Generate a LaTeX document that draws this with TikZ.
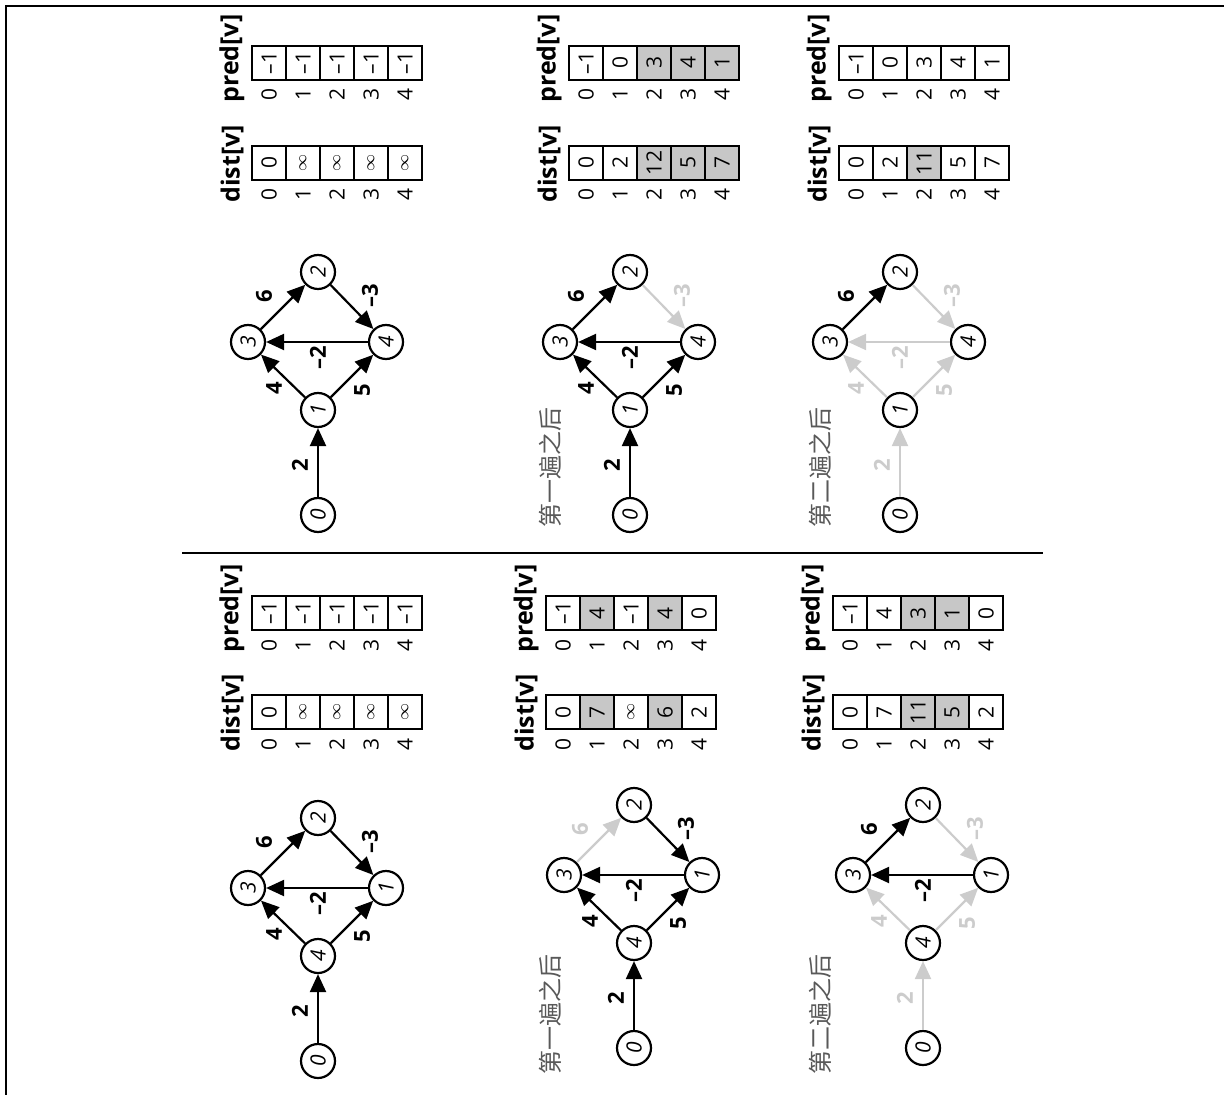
\documentclass[tikz,border=0pt]{standalone}
\usepackage{fontspec}
\setsansfont{Open Sans}
\newfontfamily\cjkfont{Noto Sans CJK SC}
\usetikzlibrary{arrows.meta}
\definecolor{shade}{gray}{0.78}
\definecolor{faint}{gray}{0.8}
\definecolor{capgray}{gray}{0.35}
\tikzset{
 vtx/.style={circle, draw, line width=1.1pt, minimum size=17pt, inner sep=0pt, font=\sffamily\itshape\fontsize{10.5}{10.5}\selectfont, rotate=90},
 ed/.style={line width=1.1pt, -{Triangle[length=9pt,width=8pt]}},
 elab/.style={font=\sffamily\bfseries\fontsize{11}{11}\selectfont, rotate=90, inner sep=0pt},
 hdr/.style={font=\sffamily\bfseries\fontsize{12.5}{12.5}\selectfont, rotate=90, inner sep=0pt, anchor=west},
 cellbox/.style={draw, line width=1pt},
 celltxt/.style={font=\sffamily\fontsize{10.5}{10.5}\selectfont, rotate=90, inner sep=0pt},
 idx/.style={font=\sffamily\fontsize{10.5}{10.5}\selectfont, rotate=90, inner sep=0pt},
 captext/.style={font=\cjkfont\fontsize{12}{12}\selectfont, text=capgray, rotate=90, anchor=west, inner sep=0pt},
}
\newcommand\myinf{{\fontsize{8}{8}\selectfont$\infty$}}
\newcommand\Nodes[3]{%
 \node[vtx] (#10) at (0,105) {0};
 \node[vtx] (#1#2) at (0,0) {#2};
 \node[vtx] (#13) at (-70,-68) {3};
 \node[vtx] (#1#3) at (68,-68) {#3};
 \node[vtx] (#12) at (0,-138) {2};}
\newcommand\Ed[6]{\draw[ed,draw=#1] (#2) -- (#3); \node[elab,text=#1] (#2#3) at (#5,#6) {#4};}
\newcommand\Tab[5]{%
 \node[hdr] (#5h) at ({#1-20},{#2+57}) {#3};
 \foreach \v/\s [count=\i from 0] in {#4}{
   \draw[cellbox, fill=\s] ({#1+34*\i},#2) rectangle ++(34,34);
   \node[celltxt] (#5c\i) at ({#1+34*\i+17},{#2+17}) {\v};
   \node[idx] (#5i\i) at ({#1+34*\i+17},{#2+49}) {\i};
 }}
\begin{document}
\begin{tikzpicture}[x=0.5pt,y=-0.5pt]
\useasboundingbox (0,0) rectangle (1224,1095);
\draw[line width=1pt] (6,1095) -- (6,6) -- (1224,6);
\draw[line width=1.1pt] (182,553) -- (1043,553);

% ---------- top row ----------
\Tab{252}{46}{pred[v]}{–1/white,–1/white,–1/white,–1/white,–1/white}{tpa}
\Tab{252}{146}{dist[v]}{0/white,\myinf/white,\myinf/white,\myinf/white,\myinf/white}{tda}
\begin{scope}[shift={(318,410)}]
\Nodes{A}{1}{4}
\Ed{black}{A0}{A1}{2}{-18}{55}
\Ed{black}{A1}{A3}{4}{-44}{-22}
\Ed{black}{A1}{A4}{5}{44}{-20}
\Ed{black}{A4}{A3}{–2}{0}{-52}
\Ed{black}{A3}{A2}{6}{-54}{-114}
\Ed{black}{A2}{A4}{–3}{52}{-114}
\end{scope}

\Tab{569}{46}{pred[v]}{–1/white,0/white,3/shade,4/shade,1/shade}{tpb}
\Tab{569}{146}{dist[v]}{0/white,2/white,12/shade,5/shade,7/shade}{tdb}
\node[captext] (capB) at (550,528) {第一遍之后};
\begin{scope}[shift={(630,410)}]
\Nodes{B}{1}{4}
\Ed{black}{B0}{B1}{2}{-18}{55}
\Ed{black}{B1}{B3}{4}{-44}{-22}
\Ed{black}{B1}{B4}{5}{44}{-20}
\Ed{black}{B4}{B3}{–2}{0}{-52}
\Ed{black}{B3}{B2}{6}{-54}{-114}
\Ed{faint}{B2}{B4}{–3}{52}{-114}
\end{scope}

\Tab{839}{46}{pred[v]}{–1/white,0/white,3/white,4/white,1/white}{tpc}
\Tab{839}{146}{dist[v]}{0/white,2/white,11/shade,5/white,7/white}{tdc}
\node[captext] (capC) at (820,528) {第二遍之后};
\begin{scope}[shift={(900,410)}]
\Nodes{C}{1}{4}
\Ed{faint}{C0}{C1}{2}{-18}{55}
\Ed{faint}{C1}{C3}{4}{-44}{-22}
\Ed{faint}{C1}{C4}{5}{44}{-20}
\Ed{faint}{C4}{C3}{–2}{0}{-52}
\Ed{black}{C3}{C2}{6}{-54}{-114}
\Ed{faint}{C2}{C4}{–3}{52}{-114}
\end{scope}

% ---------- bottom row ----------
\Tab{252}{596}{pred[v]}{–1/white,–1/white,–1/white,–1/white,–1/white}{bpa}
\Tab{252}{695}{dist[v]}{0/white,\myinf/white,\myinf/white,\myinf/white,\myinf/white}{bda}
\begin{scope}[shift={(318,956)}]
\Nodes{D}{4}{1}
\Ed{black}{D0}{D4}{2}{-18}{55}
\Ed{black}{D4}{D3}{4}{-44}{-22}
\Ed{black}{D4}{D1}{5}{44}{-20}
\Ed{black}{D1}{D3}{–2}{0}{-52}
\Ed{black}{D3}{D2}{6}{-54}{-114}
\Ed{black}{D2}{D1}{–3}{52}{-114}
\end{scope}

\Tab{546}{596}{pred[v]}{–1/white,4/shade,–1/white,4/shade,0/white}{bpb}
\Tab{546}{695}{dist[v]}{0/white,7/shade,\myinf/white,6/shade,2/white}{bdb}
\node[captext] (capE) at (550,1075) {第一遍之后};
\begin{scope}[shift={(634,943)}]
\Nodes{E}{4}{1}
\Ed{black}{E0}{E4}{2}{-18}{55}
\Ed{black}{E4}{E3}{4}{-44}{-22}
\Ed{black}{E4}{E1}{5}{44}{-20}
\Ed{black}{E1}{E3}{–2}{0}{-52}
\Ed{faint}{E3}{E2}{6}{-54}{-114}
\Ed{black}{E2}{E1}{–3}{52}{-114}
\end{scope}

\Tab{833}{596}{pred[v]}{–1/white,4/white,3/shade,1/shade,0/white}{bpc}
\Tab{833}{695}{dist[v]}{0/white,7/white,11/shade,5/shade,2/white}{bdc}
\node[captext] (capF) at (820,1075) {第二遍之后};
\begin{scope}[shift={(923,943)}]
\Nodes{F}{4}{1}
\Ed{faint}{F0}{F4}{2}{-18}{55}
\Ed{faint}{F4}{F3}{4}{-44}{-22}
\Ed{faint}{F4}{F1}{5}{44}{-20}
\Ed{black}{F1}{F3}{–2}{0}{-52}
\Ed{black}{F3}{F2}{6}{-54}{-114}
\Ed{faint}{F2}{F1}{–3}{52}{-114}
\end{scope}
\end{tikzpicture}
\end{document}
